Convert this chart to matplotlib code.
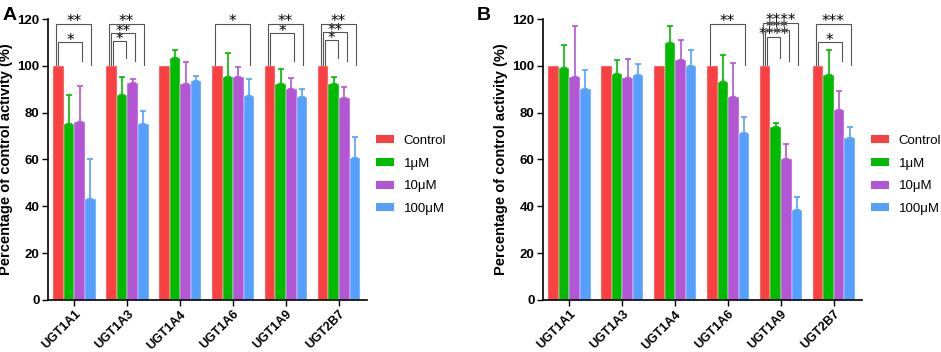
import matplotlib
matplotlib.use("Agg")

import matplotlib.pyplot as plt
from matplotlib.patches import Patch
import numpy as np

plt.rcParams["font.family"] = ["Liberation Sans", "DejaVu Sans"]

genes = ["UGT1A1", "UGT1A3", "UGT1A4", "UGT1A6", "UGT1A9", "UGT2B7"]
doses = ["Control", "1μM", "10μM", "100μM"]
colors = ["#FA4040", "#00BB00", "#B455D6", "#55A0FF"]

control = [100, 100, 100, 100, 100, 100]

# panel A
a_1uM = [75.1, 87.7, 103.2, 95.1, 92.1, 92.1]
a_1uM_err = [12.6, 7.4, 3.7, 10.5, 6.7, 3.3]
a_10uM = [76.1, 92.8, 92.1, 95.1, 90.2, 86.3]
a_10uM_err = [15.3, 1.7, 9.4, 4.3, 4.6, 4.8]
a_100uM = [43.1, 75.3, 93.7, 87.1, 86.5, 60.8]
a_100uM_err = [17.1, 5.4, 1.9, 7.4, 3.5, 8.9]

# panel B
b_1uM = [99.0, 96.3, 109.7, 92.9, 73.7, 95.9]
b_1uM_err = [10.0, 6.0, 7.3, 11.7, 2.0, 10.7]
b_10uM = [95.4, 94.7, 102.6, 86.6, 60.3, 81.0]
b_10uM_err = [21.7, 8.4, 8.5, 14.5, 6.2, 8.4]
b_100uM = [90.1, 96.1, 100.0, 71.4, 38.4, 69.3]
b_100uM_err = [8.2, 4.8, 6.9, 6.9, 5.5, 4.4]

# significance brackets: (gene index, dose index vs control, label, height)
a_sig = [
    (0, 3, "**", 118), (0, 2, "*", 110),
    (1, 3, "**", 118), (1, 2, "**", 114), (1, 1, "*", 110.5),
    (3, 3, "*", 118),
    (4, 3, "**", 118), (4, 2, "*", 114),
    (5, 3, "**", 118), (5, 2, "**", 114.3), (5, 1, "*", 111),
]
b_sig = [
    (3, 3, "**", 118),
    (4, 3, "****", 118.5), (4, 2, "***", 115.5), (4, 1, "****", 112.5),
    (5, 3, "***", 118), (5, 2, "*", 110),
]

BAR_W = 0.2


def draw_panel(ax, series, errs, sig):
    x = np.arange(len(genes))
    for i, (vals, err) in enumerate(zip(series, errs)):
        pos = x + (i - 1.5) * BAR_W
        ax.bar(pos, vals, width=BAR_W, color=colors[i], edgecolor="white",
               linewidth=0.3, zorder=2)
        if err is not None:
            ax.errorbar(pos, vals, yerr=[np.zeros(len(vals)), err], fmt="none",
                        ecolor=colors[i], elinewidth=1.2, capsize=2.3,
                        capthick=1.2, zorder=3)

    # brackets, nested by height within each gene
    for g in range(len(genes)):
        items = sorted([s for s in sig if s[0] == g], key=lambda s: -s[3])
        for k, (_, d, lab, h) in enumerate(items):
            x0 = g - 1.5 * BAR_W - 0.045 + 0.04 * k
            x1 = g + (d - 1.5) * BAR_W + 0.02 + 0.03 * k
            ax.plot([x0, x0, x1, x1], [100.5, h, h, 100.5 + 1.5 * k],
                    color="#555555", lw=0.8, clip_on=False, zorder=4)
            ax.annotate(lab, ((x0 + x1) / 2, h), xytext=(0, -2.0),
                        textcoords="offset points", ha="center", va="baseline",
                        fontsize=11, family="DejaVu Sans", color="black",
                        annotation_clip=False)

    ax.set_xlim(-0.5, 5.53)
    ax.set_ylim(0, 120)
    ax.set_yticks([0, 20, 40, 60, 80, 100, 120])
    ax.set_xticks(x)
    ax.set_xticklabels(genes, rotation=45, ha="right", rotation_mode="anchor",
                       fontsize=9, fontweight="bold")
    for lbl in ax.get_yticklabels():
        lbl.set_fontweight("bold")
        lbl.set_fontsize(9.5)
    ax.set_ylabel("Percentage of control activity (%)", fontsize=10.5,
                  fontweight="bold", labelpad=3)
    for side in ["top", "right"]:
        ax.spines[side].set_visible(False)
    for side in ["left", "bottom"]:
        ax.spines[side].set_linewidth(1.2)
    ax.tick_params(axis="both", width=1.0, length=4, pad=2)


fig = plt.figure(figsize=(9.41, 3.52), dpi=100)
ax_a = fig.add_axes([0.051, 0.148, 0.339, 0.798])
ax_b = fig.add_axes([0.577, 0.148, 0.339, 0.798])

draw_panel(ax_a, [control, a_1uM, a_10uM, a_100uM],
           [None, a_1uM_err, a_10uM_err, a_100uM_err], a_sig)
draw_panel(ax_b, [control, b_1uM, b_10uM, b_100uM],
           [None, b_1uM_err, b_10uM_err, b_100uM_err], b_sig)

handles = [Patch(facecolor=c, edgecolor="none") for c in colors]
for lx in [376 / 941, 871 / 941]:
    fig.legend(handles, doses, loc="center left", bbox_to_anchor=(lx, 0.503),
               bbox_transform=fig.transFigure, frameon=False, fontsize=9.5,
               handlelength=1.35, handleheight=0.55, labelspacing=0.8,
               handletextpad=0.75, borderpad=0, borderaxespad=0)

fig.text(3 / 941, 1 - 20 / 352, "A", fontsize=14, fontweight="bold", va="baseline")
fig.text(477 / 941, 1 - 20 / 352, "B", fontsize=14, fontweight="bold", va="baseline")

fig.savefig("out.png", dpi=100)
